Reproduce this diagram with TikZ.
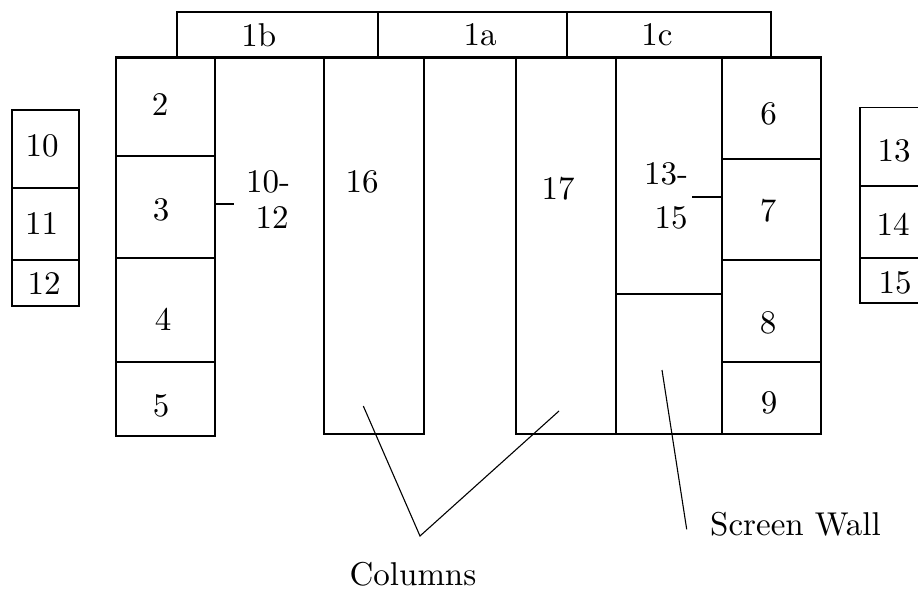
\documentclass[tikz,border=0pt]{standalone}
\font\lab="[lmroman10-regular]:mapping=tex-text" at 33bp
\begin{document}
\begin{tikzpicture}[x=1bp,y=-1bp,
  box/.style={draw, rectangle, inner sep=0pt, line width=1.8bp, anchor=north west},
  lab/.style={inner sep=0pt, font=\lab},
  ptr/.style={line width=1.1bp},
  tick/.style={line width=1.8bp}]
\clip (0,0) rectangle (918,594);
\fill[white] (0,0) rectangle (918,594);
% top band
\node[box, minimum width=200.7bp, minimum height=46bp] (t1b) at (176,11) {};
\node[box, minimum width=189bp, minimum height=46bp] (t1a) at (376.7,11) {};
\node[box, minimum width=204.3bp, minimum height=46bp] (t1c) at (565.7,11) {};
% left block
\node[box, minimum width=98.7bp, minimum height=98bp] (b2) at (115,57) {};
\node[box, minimum width=98.7bp, minimum height=102bp] (b3) at (115,155) {};
\node[box, minimum width=98.7bp, minimum height=104bp] (b4) at (115,257) {};
\node[box, minimum width=98.7bp, minimum height=74bp] (b5) at (115,361) {};
% columns
\node[box, minimum width=99.7bp, minimum height=376bp] (c16) at (323,57) {};
\node[box, minimum width=99.4bp, minimum height=376bp] (c17) at (515.3,57) {};
% 13-15 area
\node[box, minimum width=106.3bp, minimum height=236.3bp] (u13) at (614.7,57) {};
\node[box, minimum width=106.3bp, minimum height=139.7bp] (sw) at (614.7,293.3) {};
% right block
\node[box, minimum width=99bp, minimum height=101bp] (b6) at (721,57) {};
\node[box, minimum width=99bp, minimum height=101bp] (b7) at (721,158) {};
\node[box, minimum width=99bp, minimum height=102bp] (b8) at (721,259) {};
\node[box, minimum width=99bp, minimum height=72bp] (b9) at (721,361) {};
% main top line
\draw[line width=1.8bp] (b2.north west) -- (b6.north east);
% small boxes left
\node[box, minimum width=67.6bp, minimum height=78bp] (s10) at (10.7,109.3) {};
\node[box, minimum width=67.6bp, minimum height=71.7bp] (s11) at (10.7,187.3) {};
\node[box, minimum width=67.6bp, minimum height=46bp] (s12) at (10.7,259) {};
% small boxes right (cut by the edge)
\node[box, minimum width=90bp, minimum height=78.3bp] (s13) at (859,106.7) {};
\node[box, minimum width=90bp, minimum height=71.7bp] (s14) at (859,185) {};
\node[box, minimum width=90bp, minimum height=45bp] (s15) at (859,256.7) {};
% labels
\node[lab] (l1b) at (258.7,35) {1b};
\node[lab] (l1a) at (480,35) {1a};
\node[lab] (l1c) at (657,35) {1c};
\node[lab] (l2) at (160,104.7) {2};
\node[lab] (l3) at (161,210) {3};
\node[lab] (l4) at (163,319) {4};
\node[lab] (l5) at (161,405.5) {5};
\node[lab] (l10a) at (268,182) {10-};
\node[lab] (l10b) at (272,218) {12};
\node[lab] (l16) at (362,182) {16};
\node[lab] (l17) at (558,189) {17};
\node[lab] (l13a) at (666,173.6) {13-};
\node[lab] (l13b) at (671,218) {15};
\node[lab] (l6) at (768.5,114) {6};
\node[lab] (l7) at (768,210.5) {7};
\node[lab] (l8) at (768,322.7) {8};
\node[lab] (l9) at (769,402.5) {9};
\node[lab] (l10) at (42,146) {10};
\node[lab] (l11) at (41.7,224) {11};
\node[lab] (l12) at (44,284) {12};
\node[lab] (l13) at (894,151) {13};
\node[lab] (l14) at (893,224) {14};
\node[lab] (l15) at (895,282.5) {15};
\node[lab] (lcol) at (413,574) {Columns};
\node[lab] (lsw) at (795.5,524) {Screen Wall};
% ticks
\draw[tick] ([yshift=3.3bp]b3.east) -- ++(18,0);
\draw[tick] ([yshift=-20.7bp]u13.east) -- ++(-31,0);
% pointers
\coordinate (p16) at (363.3,406);
\coordinate (pv) at (420,536);
\coordinate (p17) at (559,411);
\draw[ptr] (p16) -- (pv) -- (p17);
\coordinate (psw) at (662,370);
\coordinate (pswe) at (686.7,529.3);
\draw[ptr] (psw) -- (pswe);
\end{tikzpicture}
\end{document}
